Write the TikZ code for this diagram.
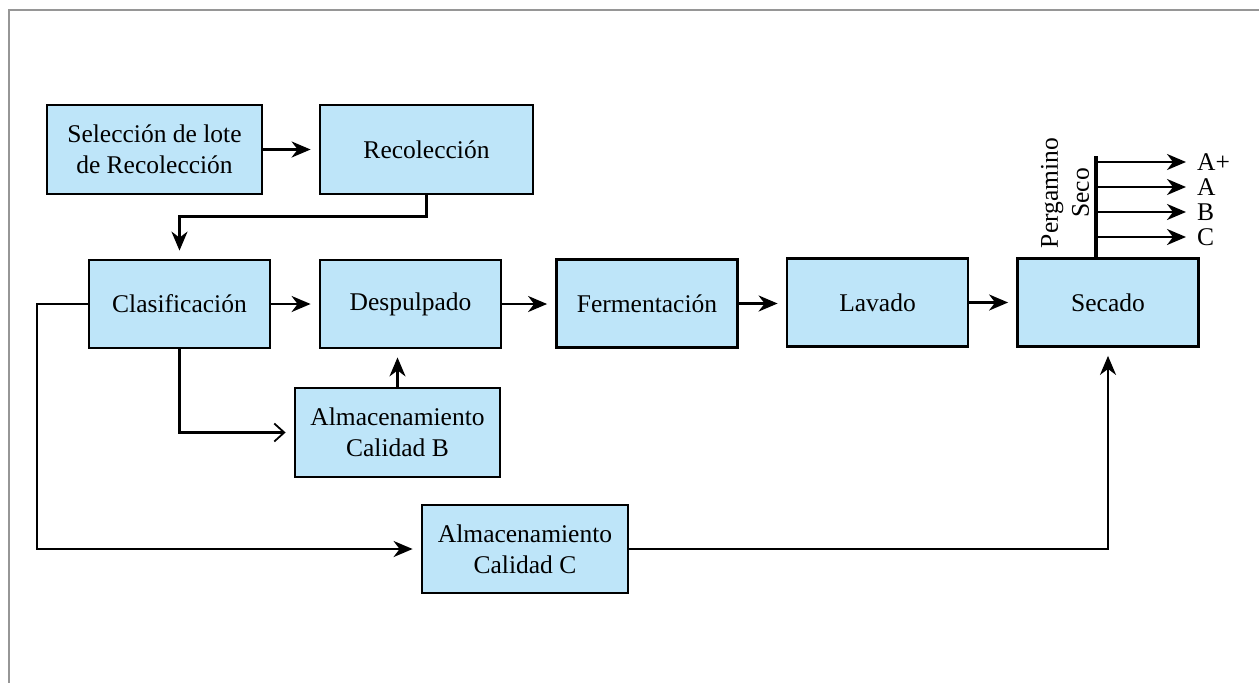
\documentclass[tikz,border=0pt]{standalone}
\usepackage{fontspec}
\setmainfont{Liberation Serif}
\usetikzlibrary{arrows.meta}
\definecolor{boxblue}{RGB}{190,229,249}
\definecolor{framegray}{RGB}{150,150,150}
\begin{document}
\begin{tikzpicture}[x=1pt,y=-1pt,
  proc/.style={draw=black, line width=2.8pt, fill=boxblue, minimum width=181pt, minimum height=88pt, inner sep=0pt, align=center, font=\fontsize{25.5}{31}\selectfont},
  conn/.style={line width=2.4pt, -{Stealth[length=19pt,width=16pt,inset=6pt]}, shorten >=8pt},
  barb/.style={line width=2.2pt, -{Straight Barb[length=10pt,width=18pt,line width=1.8pt]}, shorten >=8pt},
  lbl/.style={font=\fontsize{25.5}{30}\selectfont, inner sep=0pt, anchor=west}]
\useasboundingbox (0,0) rectangle (1259,683);
\draw[framegray, line width=1.6pt] (9,683) -- (9,10) -- (1259,10);

\node[proc, minimum width=215pt, minimum height=89pt] (sel) at (154.5,149.5) {Selección de lote\\de Recolección};
\node[proc, minimum width=213pt, minimum height=89pt] (rec) at (426.5,149.5) {Recolección};
\node[proc] (cla) at (179.5,304) {Clasificación};
\node[proc] (des) at (410.5,304) {Despulpado};
\node[proc] (fer) at (647,303.5) {Fermentación};
\node[proc] (lav) at (877.5,302.5) {Lavado};
\node[proc] (sec) at (1108,302.5) {Secado};
\node[proc, minimum width=205pt, minimum height=89pt] (almb) at (397.5,432.5) {Almacenamiento\\Calidad B};
\node[proc, minimum width=206pt] (almc) at (525,549) {Almacenamiento\\Calidad C};

\draw[conn] (sel.east) -- (rec.west);
\draw[conn] (rec.south) -- ++(0,21) -| (cla.north);
\draw[conn] (cla.east) -- (cla.east -| des.west);
\draw[conn] (des.east) -- (des.east -| fer.west);
\draw[conn] (fer.east) -- (fer.east -| lav.west);
\draw[conn] (lav.east) -- (lav.east -| sec.west);
\draw[barb] (cla.south) |- (almb.west);
\draw[conn] (almb.north) -- (almb.north |- des.south);
\coordinate (lft) at (37,304);
\draw[conn] (cla.west) -- (lft) |- (almc.west);
\draw[conn] (almc.east) -| (sec.south);

\coordinate (bartop) at (1096,156);
\draw[line width=4pt] (bartop) -- (bartop |- sec.north);
\node[rotate=90, align=center, font=\fontsize{25.5}{31}\selectfont, inner sep=0pt] (perg) at (1065,193) {Pergamino\\Seco};
\node[lbl] (la1) at (1197,162) {A+};
\node[lbl] (la2) at (1197,187) {A};
\node[lbl] (la3) at (1197,212) {B};
\node[lbl] (la4) at (1197,237) {C};
\coordinate (b1) at (1096,162);
\coordinate (b2) at (1096,187);
\coordinate (b3) at (1096,212);
\coordinate (b4) at (1096,237);
\draw[conn, shorten >=11pt] (b1) -- (la1.west);
\draw[conn, shorten >=11pt] (b2) -- (la2.west);
\draw[conn, shorten >=11pt] (b3) -- (la3.west);
\draw[conn, shorten >=11pt] (b4) -- (la4.west);
\end{tikzpicture}
\end{document}
